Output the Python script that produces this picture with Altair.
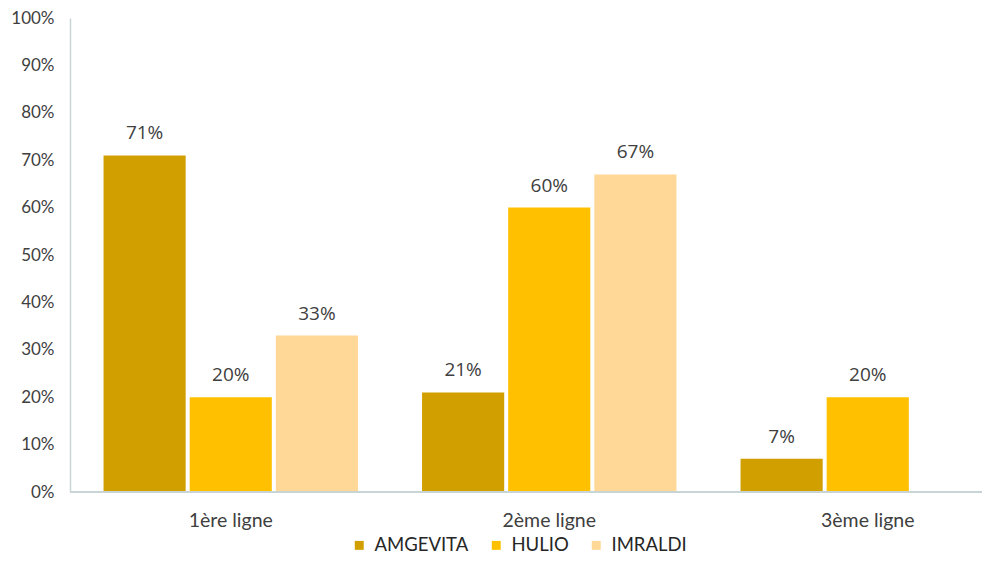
import altair as alt
import pandas as pd

lignes = ["1ère ligne", "2ème ligne", "3ème ligne"]
series = ["AMGEVITA", "HULIO", "IMRALDI"]
amgevita = [0.71, 0.21, 0.07]
hulio = [0.20, 0.60, 0.20]
imraldi = [0.33, 0.67, None]
colors = ["#D29F00", "#FFC000", "#FFD797"]
y_ticks = [0, 0.1, 0.2, 0.3, 0.4, 0.5, 0.6, 0.7, 0.8, 0.9, 1.0]

rows = []
for s, vals in zip(series, [amgevita, hulio, imraldi]):
    for l, v in zip(lignes, vals):
        if v is not None:
            rows.append({"ligne": l, "serie": s, "valeur": v})
df = pd.DataFrame(rows)

W = 912
H = 474

x = alt.X(
    "ligne:N",
    sort=lignes,
    scale=alt.Scale(range=[1.5, 957], paddingInner=0, paddingOuter=0),
    axis=alt.Axis(title=None, labelAngle=0, domain=False, ticks=False,
                  labelFontSize=19.5, labelColor="#404040", labelPadding=19,
                  labelFont="Lato"),
)
xo = alt.XOffset("serie:N", sort=series,
                 scale=alt.Scale(paddingInner=0.0465, paddingOuter=0.372))
y = alt.Y(
    "valeur:Q",
    scale=alt.Scale(domain=[0, 1]),
    axis=alt.Axis(title=None, format="%", values=y_ticks, grid=False, ticks=False,
                  domainColor="#C9D5D5", domainWidth=1.5, labelFontSize=17,
                  labelPadding=16, labelColor="#404040", labelFont="Lato"),
)
color = alt.Color(
    "serie:N",
    sort=series,
    scale=alt.Scale(domain=series, range=colors),
    legend=alt.Legend(title=None, orient="none", legendX=280, legendY=518,
                      direction="horizontal", symbolType="square", symbolSize=80,
                      labelFontSize=18.5, labelFont="Lato", labelColor="#262626",
                      columnPadding=18, labelOffset=6, padding=0),
)

bars = alt.Chart(df).mark_bar().encode(x=x, xOffset=xo, y=y, color=color)
labels = alt.Chart(df).mark_text(baseline="alphabetic", dy=-16, fontSize=19,
                                  font="Open Sans", color="#404040").encode(
    x=x, xOffset=xo, y=y,
    text=alt.Text("valeur:Q", format=".0%"),
)
domain_line = alt.Chart(df).mark_rule(color="#C9D5D5", strokeWidth=1.5).encode(
    x=alt.value(0), x2=alt.value(W), y=alt.value(H)
)

chart = alt.layer(bars, labels, domain_line).properties(
    width=W, height=H,
    autosize=alt.AutoSizeParams(type="none"),
    padding={"left": 62, "top": 10, "right": 0, "bottom": 64},
).configure_view(stroke=None)

chart.save("out.html", embed_options={"renderer": "svg", "actions": False})
